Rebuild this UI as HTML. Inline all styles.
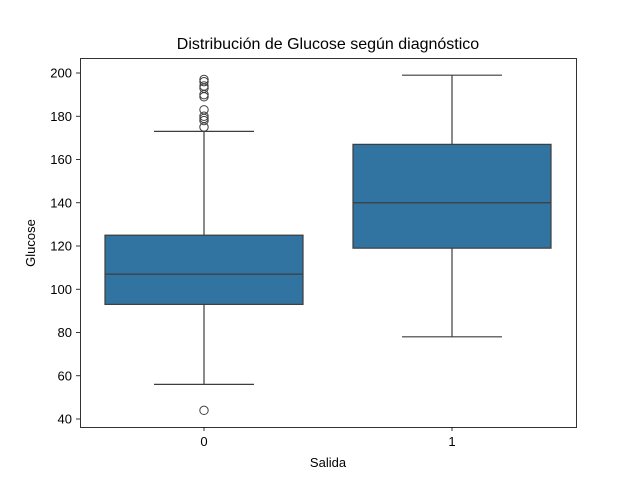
<!DOCTYPE html>
<html><head><meta charset="utf-8"><style>body{margin:0;background:#fff}svg{font-family:"Liberation Sans","DejaVu Sans",sans-serif}</style></head>
<body>
<svg id="c" width="640" height="480">
<text x="328" y="49" font-size="16" text-anchor="middle">Distribución de Glucose según diagnóstico</text>
<text x="328" y="467" font-size="13" text-anchor="middle">Salida</text>
<text x="35" y="243" font-size="13" text-anchor="middle" transform="rotate(-90 35 243)">Glucose</text>
<g id="g"></g>
<rect x="80.5" y="58.5" width="496" height="369" fill="none" stroke="#000" stroke-width="0.8"/>
</svg>
<script>
const categories=["0","1"];
const q1=[93,119];
const med=[107,140];
const q3=[125,167];
const wlo=[56,78];
const whi=[173,199];
const outliers=[[44,175,178,179,180,183,189,190,193,194,196,197],[]];
const yTicks=[40,60,80,100,120,140,160,180,200];
const ns="http://www.w3.org/2000/svg",g=document.getElementById('g');
const y=v=>419-(v-40)*2.1625;
const xc=i=>204+i*248;
function mk(t,a){const e=document.createElementNS(ns,t);for(const k in a)e.setAttribute(k,a[k]);g.appendChild(e);return e;}
yTicks.forEach(t=>{
const l=mk('line',{x1:76,x2:80,y1:y(t),y2:y(t),stroke:'#000','stroke-width':0.8});


const tx=mk('text',{x:72,y:y(t)+4.5,'font-size':13,'text-anchor':'end'});tx.textContent=t;


});
categories.forEach((c,i)=>{
const x=xc(i),s='#3d3d3d';
const l=mk('line',{x1:x,x2:x,y1:427,y2:431,stroke:'#000','stroke-width':0.8});


const tx=mk('text',{x:x,y:446,'font-size':13,'text-anchor':'middle'});tx.textContent=c;


const w1=mk('line',{x1:x,x2:x,y1:y(q1[i]),y2:y(wlo[i]),stroke:s,'stroke-width':1.2});


const w2=mk('line',{x1:x,x2:x,y1:y(q3[i]),y2:y(whi[i]),stroke:s,'stroke-width':1.2});


[wlo[i],whi[i]].forEach(v=>{const cp=mk('line',{x1:x-50,x2:x+50,y1:y(v),y2:y(v),stroke:s,'stroke-width':1.2});

});
const b=mk('rect',{x:x-99,y:y(q3[i]),width:198,height:y(q1[i])-y(q3[i]),fill:'#3274a1',stroke:s,'stroke-width':1.2});


const m=mk('line',{x1:x-99,x2:x+99,y1:y(med[i]),y2:y(med[i]),stroke:s,'stroke-width':1.2});


outliers[i].forEach(v=>{const o=mk('circle',{cx:x,cy:y(v),r:4.2,fill:'none',stroke:s,'stroke-width':1});

});
});
</script>
</body></html>
